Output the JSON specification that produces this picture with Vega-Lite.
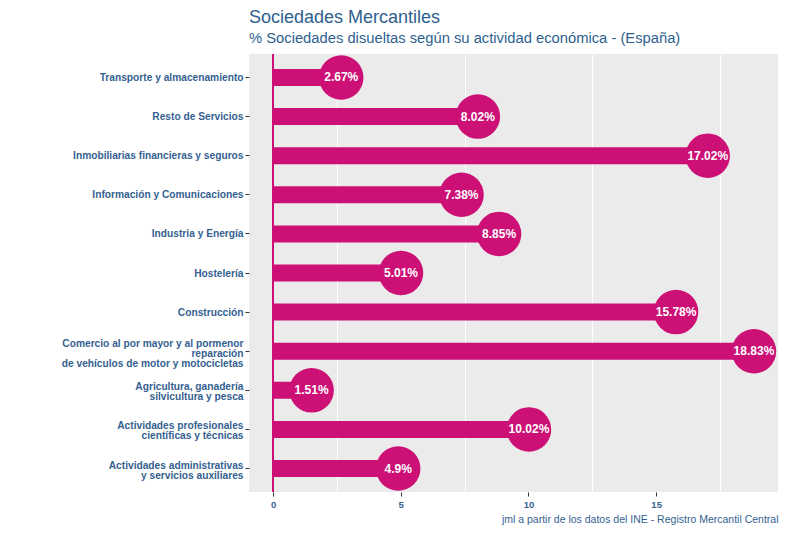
{
  "$schema": "https://vega.github.io/schema/vega-lite/v6.json",
  "width": 529,
  "height": 438,
  "autosize": {"type": "none"},
  "padding": {"left": 249, "top": 54, "right": 9, "bottom": 41},
  "background": "white",
  "config": {
    "font": "Liberation Sans",
    "view": {"fill": "#EBEBEB", "stroke": null}
  },
  "title": {
    "text": "Sociedades Mercantiles",
    "subtitle": "% Sociedades disueltas según su actividad económica - (España)",
    "anchor": "start",
    "frame": "group",
    "font": "Liberation Sans",
    "fontSize": 18,
    "fontWeight": "normal",
    "color": "#2E5F8F",
    "subtitleFont": "Liberation Sans",
    "subtitleFontSize": 14.75,
    "subtitleColor": "#2E5F8F",
    "subtitlePadding": 4,
    "offset": 8
  },
  "data": {
    "values": [
      {"actividad": "Transporte y almacenamiento", "valor": 2.67},
      {"actividad": "Resto de Servicios", "valor": 8.02},
      {"actividad": "Inmobiliarias financieras y seguros", "valor": 17.02},
      {"actividad": "Información y Comunicaciones", "valor": 7.38},
      {"actividad": "Industria y Energía", "valor": 8.85},
      {"actividad": "Hostelería", "valor": 5.01},
      {"actividad": "Construcción", "valor": 15.78},
      {"actividad": "Comercio al por mayor y al pormenor|reparación|de vehículos de motor y motocicletas", "valor": 18.83},
      {"actividad": "Agricultura, ganadería|silvicultura y pesca", "valor": 1.51},
      {"actividad": "Actividades profesionales|científicas y técnicas", "valor": 10.02},
      {"actividad": "Actividades administrativas|y servicios auxiliares", "valor": 4.9}
    ]
  },
  "transform": [{"calculate": "datum.valor + '%'", "as": "etiqueta"}],
  "encoding": {
    "y": {
      "field": "actividad",
      "type": "nominal",
      "sort": null,
      "scale": {"paddingInner": 0, "paddingOuter": 0.1},
      "axis": {
        "title": null,
        "domain": false,
        "labelExpr": "split(datum.label, '|')",
        "labelFont": "Liberation Sans",
        "labelFontSize": 10.2,
        "labelFontWeight": "bold",
        "labelColor": "#355F91",
        "labelLineHeight": 10,
        "labelPadding": 2,
        "labelOffset": {
          "condition": [
            {"test": "length(split(datum.value, '|')) === 3", "value": -7.5},
            {"test": "length(split(datum.value, '|')) === 2", "value": -3}
          ],
          "value": 0.5
        },
        "tickColor": "#333333",
        "tickSize": 4,
        "labelLimit": 300
      }
    }
  },
  "layer": [
    {
      "mark": {"type": "rule", "color": "#CD1076", "strokeWidth": 1.5},
      "encoding": {"x": {"datum": 0, "type": "quantitative"}, "y": null}
    },
    {
      "mark": {"type": "bar", "color": "#CD1076", "size": 17},
      "encoding": {
        "x": {
          "field": "valor",
          "type": "quantitative",
          "scale": {"domain": [-0.9415, 19.7715], "nice": false, "zero": false},
          "axis": {
            "values": [0, 2.5, 5, 7.5, 10, 12.5, 15, 17.5],
            "labelExpr": "datum.value % 5 === 0 ? datum.label : ''",
            "domain": false,
            "grid": true,
            "gridColor": "white",
            "gridWidth": 1,
            "gridOpacity": {"condition": {"test": "datum.value % 5 !== 0", "value": 1}, "value": 0},
            "tickOpacity": {"condition": {"test": "datum.value % 5 === 0", "value": 1}, "value": 0},
            "tickColor": "#333333",
            "tickSize": 4,
            "labelFont": "Liberation Sans",
            "labelFontSize": 9.5,
            "labelFontWeight": "bold",
            "labelColor": "#355F91",
            "labelPadding": 3,
            "title": "jml a partir de los datos del INE - Registro Mercantil Central",
            "titleAnchor": "end",
            "titleFont": "Liberation Sans",
            "titleFontSize": 10.5,
            "titleFontWeight": "normal",
            "titleColor": "#355F91",
            "titlePadding": 6
          }
        },
        "x2": {"datum": 0}
      }
    },
    {
      "mark": {"type": "point", "shape": "circle", "filled": true, "opacity": 1, "color": "#CD1076", "size": 1980},
      "encoding": {"x": {"field": "valor", "type": "quantitative"}}
    },
    {
      "mark": {"type": "text", "color": "white", "font": "Liberation Sans", "fontSize": 12, "fontWeight": "bold", "align": "center", "baseline": "middle"},
      "encoding": {
        "x": {"field": "valor", "type": "quantitative"},
        "text": {"field": "etiqueta"}
      }
    }
  ]
}
